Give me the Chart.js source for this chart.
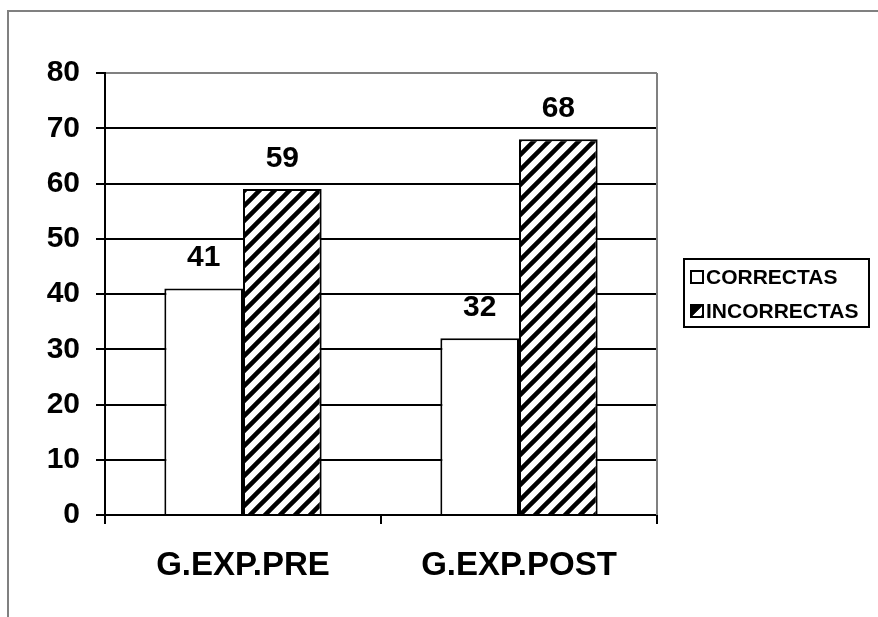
<!DOCTYPE html>
<html>
<head>
<meta charset="utf-8">
<script src="https://cdn.jsdelivr.net/npm/chart.js@4.4.1/dist/chart.umd.min.js"></script>
<style>
  html, body { margin: 0; padding: 0; background: #ffffff; }
  #wrap { position: relative; width: 878px; height: 617px; }
  canvas { display: block; }
</style>
</head>
<body>
<div id="wrap"><canvas id="c" width="878" height="617"></canvas></div>
<script>
const categories = ['G.EXP.PRE', 'G.EXP.POST'];
const seriesNames = ['CORRECTAS', 'INCORRECTAS'];
const correctas = [41, 32];
const incorrectas = [59, 68];
const yMin = 0, yMax = 80, yStep = 10;

const FONT = '"Liberation Sans", Arial, sans-serif';

function makeHatch() {
  const s = 15;
  const c = document.createElement('canvas');
  c.width = s; c.height = s;
  const g = c.getContext('2d');
  g.fillStyle = '#ffffff';
  g.fillRect(0, 0, s, s);
  g.strokeStyle = '#000000';
  g.lineWidth = 4.5;
  g.beginPath();
  g.moveTo(-s, 2 * s); g.lineTo(2 * s, -s);
  g.moveTo(-s, s); g.lineTo(s, -s);
  g.moveTo(0, 2 * s); g.lineTo(2 * s, 0);
  g.stroke();
  return c;
}
const hatchCanvas = makeHatch();
const ctx = document.getElementById('c').getContext('2d');
const hatch = ctx.createPattern(hatchCanvas, 'repeat');

const framePlugin = {
  id: 'frame',
  beforeDraw(chart) {
    const g = chart.ctx;
    g.save();
    g.fillStyle = '#ffffff';
    g.fillRect(0, 0, chart.width, chart.height);
    g.strokeStyle = '#808080';
    g.lineWidth = 2;
    g.beginPath();
    g.moveTo(8, chart.height);
    g.lineTo(8, 11);
    g.lineTo(chart.width, 11);
    g.stroke();
    g.restore();
  },
  beforeDatasetsDraw(chart) {
    const a = chart.chartArea, g = chart.ctx;
    g.save();
    g.strokeStyle = '#808080';
    g.lineWidth = 2;
    g.beginPath();
    g.moveTo(a.right, a.top);
    g.lineTo(a.right, a.bottom);
    g.stroke();
    g.restore();
  },
  afterDatasetsDraw(chart) {
    const g = chart.ctx;
    g.save();
    g.fillStyle = '#000000';
    g.font = 'bold 30px ' + FONT;
    g.textAlign = 'center';
    g.textBaseline = 'alphabetic';
    chart.data.datasets.forEach((ds, i) => {
      const meta = chart.getDatasetMeta(i);
      meta.data.forEach((bar, j) => {
        g.fillText(String(ds.data[j]), bar.x, bar.y - 22);
      });
    });
    g.restore();
  },
  afterDraw(chart) {
    const g = chart.ctx;
    g.save();
    g.strokeStyle = '#000000';
    g.lineWidth = 2;
    g.strokeRect(684, 259, 185, 68);
    g.font = 'bold 21px ' + FONT;
    g.textBaseline = 'middle';
    g.textAlign = 'left';
    const ys = [277, 311];
    chart.data.datasets.forEach((ds, i) => {
      const y = ys[i];
      g.fillStyle = i === 0 ? '#ffffff' : hatch;
      g.fillRect(691, y - 6, 12, 12);
      if (i === 1) { g.fillStyle = '#000'; g.beginPath(); g.moveTo(691, y - 6); g.lineTo(703, y - 6); g.lineTo(691, y + 6); g.closePath(); g.fill(); }
      g.strokeStyle = '#000000';
      g.lineWidth = 2;
      g.strokeRect(691, y - 6, 12, 12);
      g.fillStyle = '#000000';
      g.fillText(ds.label, 706, y + 1);
    });
    g.restore();
  }
};

new Chart(ctx, {
  type: 'bar',
  data: {
    labels: categories,
    datasets: [
      { label: seriesNames[0], data: correctas, backgroundColor: '#ffffff', borderColor: '#000000', borderWidth: 2 },
      { label: seriesNames[1], data: incorrectas, backgroundColor: hatch, borderColor: '#000000', borderWidth: 2 }
    ]
  },
  options: {
    responsive: false,
    animation: false,
    devicePixelRatio: 1,
    layout: { padding: { top: 73, right: 221, bottom: 0, left: 0 } },
    datasets: { bar: { categoryPercentage: 0.57, barPercentage: 1.0 } },
    plugins: { legend: { display: false }, tooltip: { enabled: false }, title: { display: false } },
    scales: {
      x: {
        offset: true,
        grid: { display: true, drawOnChartArea: false, drawTicks: true, tickLength: 9, color: '#000000', tickColor: '#000000', lineWidth: 2, offset: true },
        border: { display: true, color: '#000000', width: 2 },
        ticks: { color: '#000000', font: { family: FONT, size: 33, weight: 'bold' }, padding: 22 },
        afterFit(scale) { scale.height = 102; }
      },
      y: {
        min: yMin, max: yMax,
        grid: {
          color: (c) => (c.tick && c.tick.value === yMax) ? '#808080' : '#000000',
          tickColor: '#000000', lineWidth: 2, drawTicks: true, tickLength: 9
        },
        border: { display: true, color: '#000000', width: 2 },
        ticks: { stepSize: yStep, color: '#000000', font: { family: FONT, size: 30, weight: 'bold' }, padding: 16 },
        afterFit(scale) { scale.width = 105; }
      }
    }
  },
  plugins: [framePlugin]
});
</script>
</body>
</html>
